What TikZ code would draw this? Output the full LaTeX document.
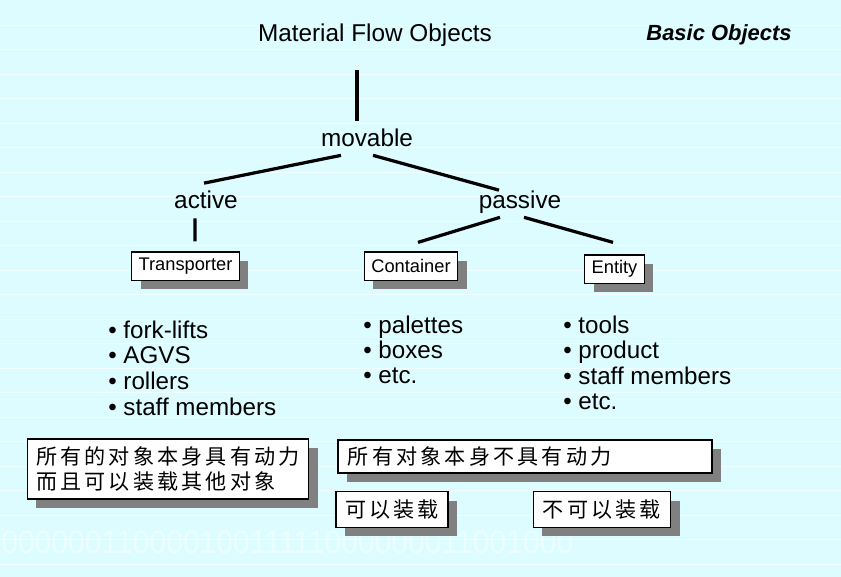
\documentclass[tikz,border=0pt]{standalone}
\usepackage{fontspec}
\setmainfont{Liberation Sans}
\newfontfamily\cjk[LetterSpace=15]{Noto Sans CJK SC}
\usepackage{tikz}
\usetikzlibrary{shadows}
\definecolor{bgc}{RGB}{220,252,255}
\definecolor{shdc}{RGB}{128,128,128}
\tikzset{
  lbl/.style={inner sep=0pt, font=\fontsize{17.3}{20}\selectfont, text height=12.5pt, text depth=3.6pt},
  link/.style={line width=2.3pt},
  tagbox/.style={draw, fill=white, line width=.8pt, inner xsep=5pt, inner ysep=0pt,
    minimum height=20pt, font=\fontsize{13}{15}\selectfont,
    drop shadow={opacity=1, fill=shdc, shadow xshift=6.4pt, shadow yshift=-6.4pt}},
  item/.style={inner sep=0pt, anchor=base west, font=\fontsize{17.2}{20}\selectfont},
  notebox/.style={draw, fill=white, line width=.8pt, inner xsep=6pt, inner ysep=0pt,
    align=left, font=\cjk\fontsize{15}{17.5}\selectfont,
    drop shadow={opacity=1, fill=shdc, shadow xshift=6.4pt, shadow yshift=-6.4pt}}
}

\begin{document}
\begin{tikzpicture}[x=0.025cm,y=-0.025cm]
% background
\fill[bgc] (0,0) rectangle (841,577);
\useasboundingbox (0,0) rectangle (841,577);
\foreach \y in {25,49.5,...,570} \draw[white,opacity=.6,line width=.5pt] (0,\y) -- (841,\y);
\node[anchor=base west,inner sep=0pt,white,opacity=.45,font=\fontsize{23}{23}\selectfont] (bin) at (1,553) {\scalebox{.93}[1]{00000011000010011111000000011001000}};

% headings
\node[lbl,anchor=base] (title) at (375,42) {Material Flow Objects};
\node[inner sep=0pt,anchor=base,font=\fontsize{15.6}{18}\selectfont\bfseries\itshape] (basic) at (719,41) {Basic Objects};

% tree
\node[lbl,anchor=base] (movable) at (367,147) {movable};
\node[lbl,anchor=base] (active) at (206,208) {active};
\node[lbl,anchor=base] (passive) at (520,208) {passive};
\node[tagbox] (transporter) at (185.5,266) {Transporter};
\node[tagbox] (container) at (411,266) {Container};
\node[tagbox] (entity) at (614.5,269) {Entity};

\draw[link] ([shift={(-18,23)}]title.south) -- ([shift={(-10,-8)}]movable.north);
\draw[link] ([shift={(-26,3)}]movable.south) -- ([shift={(-2,-7)}]active.north);
\draw[link] ([shift={(6,3)}]movable.south) -- ([shift={(-21,0)}]passive.north);
\draw[link] ([shift={(-11,5)}]active.south) -- ([shift={(9.5,-10)}]transporter.north);
\draw[link] ([shift={(-20,4)}]passive.south) -- ([shift={(7,-9)}]container.north);
\draw[link] ([shift={(4,4)}]passive.south) -- ([shift={(-1.5,-12)}]entity.north);

% item lists
\foreach \t [count=\i] in {fork-lifts, AGVS, rollers, staff members}
  \node[item] (tr\i) at (108,{338+25.7*(\i-1)}) {\textbullet\ \t};
\foreach \t [count=\i] in {palettes, boxes, etc.}
  \node[item] (co\i) at (363,{333+25.3*(\i-1)}) {\textbullet\ \t};
\foreach \t [count=\i] in {tools, product, staff members, etc.}
  \node[item] (en\i) at (563,{333+25.5*(\i-1)}) {\textbullet\ \t};

% notes
\node[notebox,minimum width=200pt,minimum height=42.7pt] (noteA) at (168,469) {所有的对象本身具有动力\\而且可以装载其他对象};
\node[notebox,minimum width=266pt,minimum height=23.5pt,text width=252pt] (noteB) at (525,456.5) {所有对象本身不具有动力};
\node[notebox,minimum width=79.6pt,minimum height=25pt] (noteC) at (392,509.5) {可以装载};
\node[notebox,minimum width=98pt,minimum height=25pt] (noteD) at (602,509.5) {不可以装载};
\end{tikzpicture}
\end{document}
